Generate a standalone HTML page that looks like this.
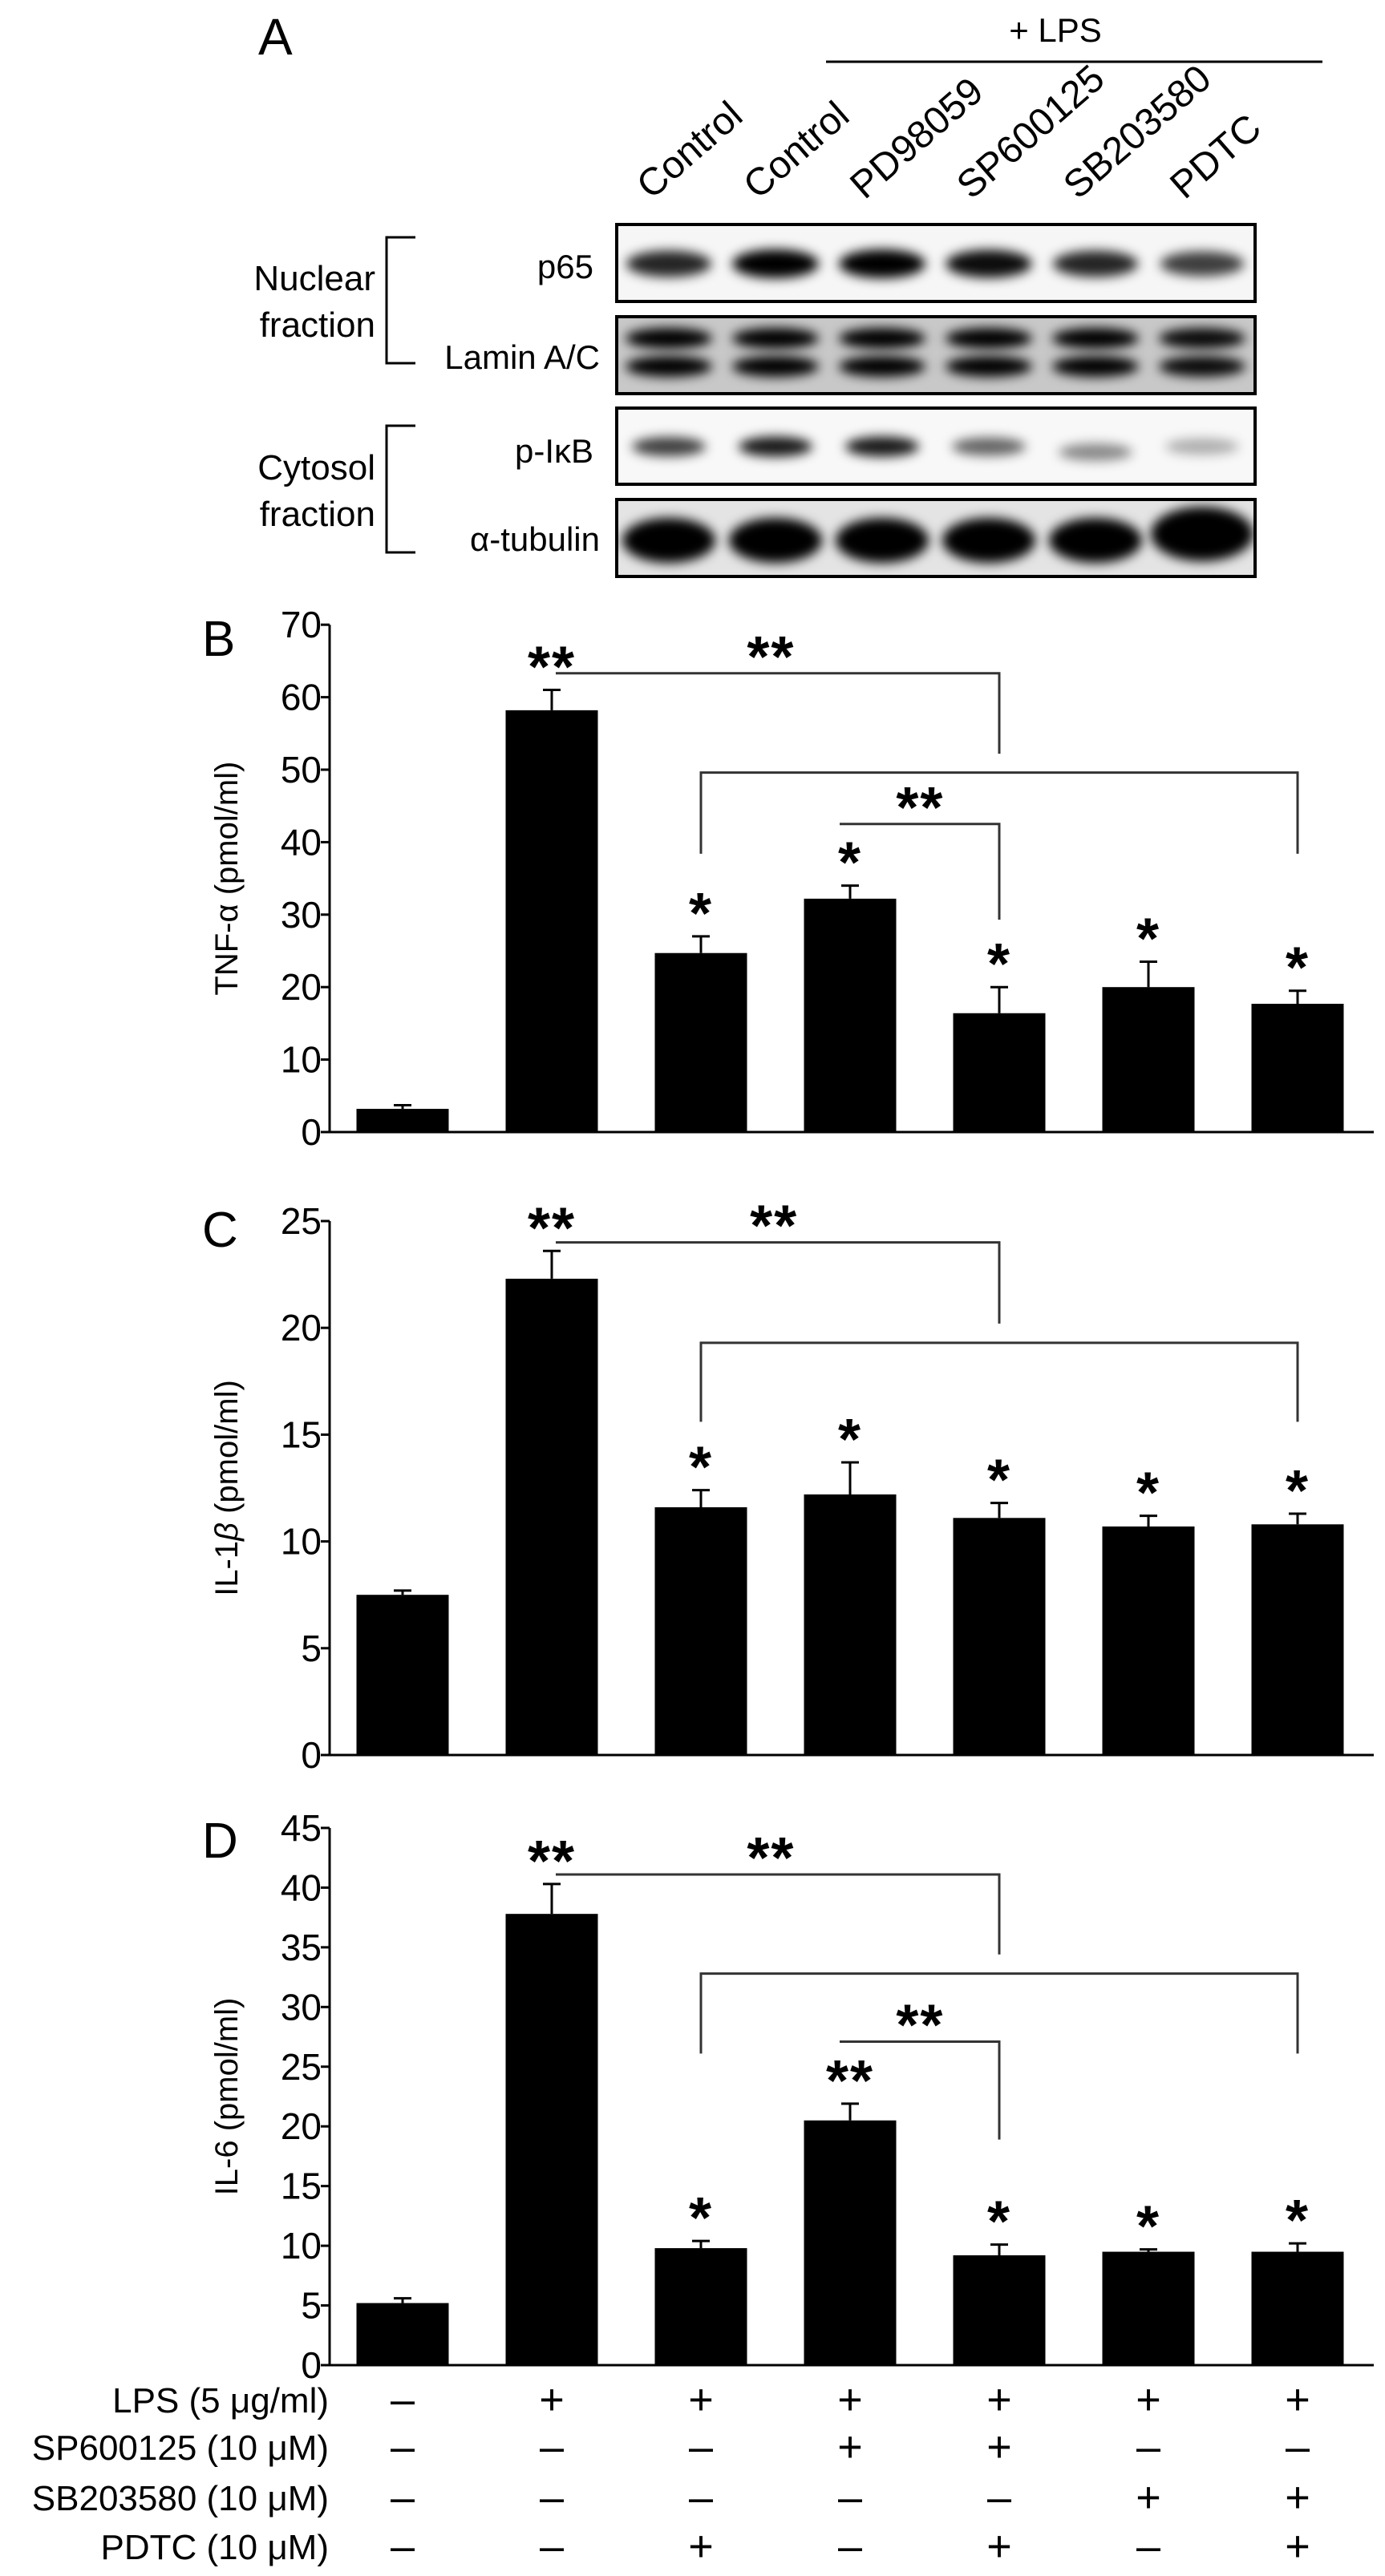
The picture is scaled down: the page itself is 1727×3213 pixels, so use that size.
<!DOCTYPE html>
<html><head><meta charset="utf-8"><style>
html,body{margin:0;padding:0;background:#fff;}
svg{display:block;}
.t{font-family:"Liberation Sans Narrow","Liberation Sans",sans-serif;fill:#000;}
.s{font-family:"Liberation Sans",sans-serif;fill:#000;}
</style></head><body>
<svg id="fig" xmlns="http://www.w3.org/2000/svg" width="1727" height="3213" viewBox="0 0 1727 3213">
<defs>
<filter id="blur" x="-50%" y="-100%" width="200%" height="300%"><feGaussianBlur stdDeviation="7"/></filter>
<clipPath id="c1"><rect x="769" y="280" width="796" height="96"/></clipPath>
<clipPath id="c2"><rect x="769" y="395" width="796" height="96"/></clipPath>
<clipPath id="c3"><rect x="769" y="509" width="796" height="95"/></clipPath>
<clipPath id="c4"><rect x="769" y="623" width="796" height="96"/></clipPath>
</defs>
<g id="panelA">
<text class="t" x="322" y="68" font-size="64">A</text>
<text class="t" x="1316" y="52" font-size="42" text-anchor="middle">+ LPS</text>
<line x1="1030" y1="77" x2="1649" y2="77" stroke="#000" stroke-width="3"/>
<text class="t" x="468" y="362" font-size="44" text-anchor="end">Nuclear</text>
<text class="t" x="468" y="420" font-size="44" text-anchor="end">fraction</text>
<path d="M518 296 H482 V453 H518" fill="none" stroke="#000" stroke-width="3"/>
<text class="t" x="468" y="598" font-size="44" text-anchor="end">Cytosol</text>
<text class="t" x="468" y="656" font-size="44" text-anchor="end">fraction</text>
<path d="M518 531 H482 V689 H518" fill="none" stroke="#000" stroke-width="3"/>
<text class="t" x="740" y="347" font-size="42" text-anchor="end">p65</text>
<text class="t" x="748" y="460" font-size="42" text-anchor="end">Lamin A/C</text>
<text class="t" x="740" y="577" font-size="42" text-anchor="end">p-IκB</text>
<text class="t" x="748" y="687" font-size="42" text-anchor="end">α-tubulin</text>
<g id="blots"></g>
<g id="lanes"></g>
</g>
<g id="charts"></g>
</svg>
<script>
const NS="http://www.w3.org/2000/svg";
// ---- blot data ----
const laneNames=["Control","Control","PD98059","SP600125","SB203580","PDTC"];
const p65Intensity=[0.85,1,1,0.95,0.85,0.75];
const laminIntensity=[1,1,1,1,1,0.95];
const pikbIntensity=[0.75,0.9,0.9,0.6,0.45,0.3];
const tubulinIntensity=[1,1,1,1,1,1];
// ---- chart data ----
const categories=["ctrl","LPS","LPS+PDTC","LPS+SP","LPS+SP+PDTC","LPS+SB","LPS+SB+PDTC"];
const tnfValues=[3.2,58.2,24.7,32.2,16.4,20.0,17.7];
const tnfErrors=[0.5,2.8,2.3,1.8,3.6,3.5,1.8];
const tnfTicks=[0,10,20,30,40,50,60,70];
const tnfStars=["","**","*","*","*","*","*"];
const il1Values=[7.5,22.3,11.6,12.2,11.1,10.7,10.8];
const il1Errors=[0.2,1.3,0.8,1.5,0.7,0.5,0.5];
const il1Ticks=[0,5,10,15,20,25];
const il1Stars=["","**","*","*","*","*","*"];
const il6Values=[5.2,37.8,9.8,20.5,9.2,9.5,9.5];
const il6Errors=[0.4,2.5,0.6,1.4,0.9,0.2,0.7];
const il6Ticks=[0,5,10,15,20,25,30,35,40,45];
const il6Stars=["","**","*","**","*","*","*"];
const lpsRow=["–","+","+","+","+","+","+"];
const spRow=["–","–","–","+","+","–","–"];
const sbRow=["–","–","–","–","–","+","+"];
const pdtcRow=["–","–","+","–","+","–","+"];

function el(tag,attrs,parent){const e=document.createElementNS(NS,tag);for(const k in attrs)e.setAttribute(k,attrs[k]);parent.appendChild(e);return e;}

// blots
const blots=document.getElementById('blots');
const laneX=i=>834+133*i;
function box(y,h,clip,bg,name){
  const g=el('g',{},blots);
  
  
  el('rect',{x:769,y:y,width:796,height:h,fill:bg},g);
  const inner=el('g',{'clip-path':'url(#'+clip+')'},g);
  el('rect',{x:769,y:y,width:796,height:h,fill:'none',stroke:'#000','stroke-width':4},g);
  return inner;
}
const b1=box(280,96,'c1','#f6f6f6','p65-blot');
p65Intensity.forEach((v,i)=>{const e=el('ellipse',{cx:laneX(i),cy:329,rx:48+6*v,ry:8+10*v,fill:'#000','fill-opacity':v,filter:'url(#blur)'},b1);});
const b2=box(395,96,'c2','#c8c8c8','lamin-blot');
laminIntensity.forEach((v,i)=>{[422,457].forEach(cy=>{const e=el('ellipse',{cx:laneX(i),cy:cy,rx:54,ry:13,fill:'#000','fill-opacity':v,filter:'url(#blur)'},b2);});});
const b3=box(509,95,'c3','#f8f8f8','pikb-blot');
pikbIntensity.forEach((v,i)=>{const e=el('ellipse',{cx:laneX(i),cy:i==4?564:557,rx:46,ry:9+4*v,fill:'#000','fill-opacity':v,filter:'url(#blur)'},b3);});
const b4=box(623,96,'c4','#e4e4e4','tubulin-blot');
tubulinIntensity.forEach((v,i)=>{const e=el('ellipse',{cx:laneX(i),cy:i==5?666:674,rx:i==5?64:58,ry:i==5?34:28,fill:'#000','fill-opacity':v,filter:'url(#blur)'},b4);});
const lanes=document.getElementById('lanes');
laneNames.forEach((n,i)=>{
  const x=laneX(i)-22,y=250;
  const t=el('text',{class:'s',x:x,y:y,'font-size':48,transform:`rotate(-41 ${x} ${y})`},lanes);
  t.textContent=n;
  
  
});

// charts
const charts=document.getElementById('charts');
const barX=i=>502+186*i;
const BW=115;
function chart(opt){
  const g=el('g',{},charts);
  
  
  const y=v=>opt.y0-v*opt.ppu;
  const maxT=opt.ticks[opt.ticks.length-1];
  const L=el('text',{class:'t',x:252,y:opt.letterY,'font-size':62},g);L.textContent=opt.letter;
  
  el('line',{x1:411,y1:y(maxT),x2:411,y2:opt.y0,stroke:'#000','stroke-width':3},g);
  el('line',{x1:400,y1:opt.y0,x2:1713,y2:opt.y0,stroke:'#000','stroke-width':3},g);
  opt.ticks.forEach(t=>{
    el('line',{x1:400,y1:y(t),x2:411,y2:y(t),stroke:'#000','stroke-width':3},g);
    const tx=el('text',{class:'t',x:401,y:y(t)+16,'font-size':46,'text-anchor':'end'},g);
    tx.textContent=t;
    
    
  });
  const cy=(y(maxT)+opt.y0)/2;
  const ti=el('text',{class:'s',x:296,y:cy,'font-size':40,'text-anchor':'middle',transform:`rotate(-90 296 ${cy})`},g);
  ti.innerHTML=opt.title;
  
  
  opt.values.forEach((v,i)=>{
    const cx=barX(i);
    const r=el('rect',{x:cx-BW/2,y:y(v),width:BW,height:opt.y0-y(v),fill:'#000'},g);
    
    
    const top=y(v+opt.errors[i]);
    const e=el('path',{d:`M${cx} ${y(v)} V${top} M${cx-11} ${top} H${cx+11}`,stroke:'#000','stroke-width':3,fill:'none'},g);
    
    
    if(opt.stars[i]){
      const s=el('text',{class:'s',x:cx,y:top-4,'font-size':72,'font-weight':'bold','text-anchor':'middle','letter-spacing':2},g);
      s.textContent=opt.stars[i];
      
      
    }
  });
  opt.brackets.forEach(b=>{
    const x1=barX(b[0])+(b[5]||0),x2=barX(b[1]);
    const p=el('path',{d:`M${x1} ${y(b[3])} V${y(b[2])} H${x2} V${y(b[4])}`,stroke:'#333','stroke-width':3,fill:'none'},g);
    
    
    if(b[6]!==undefined){
      const s=el('text',{class:'s',x:barX(b[6]),y:y(b[2])+4,'font-size':72,'font-weight':'bold','text-anchor':'middle','letter-spacing':2},g);
      s.textContent='**';
      
      
    }
  });
}
chart({name:'tnf-chart',letter:'B',letterY:818,y0:1412,ppu:9.04,ticks:tnfTicks,values:tnfValues,errors:tnfErrors,stars:tnfStars,
  title:'TNF-α (pmol/ml)',
  brackets:[[1,4,63.3,63.3,52.2,5,2.47],[2,6,49.6,38.4,38.4],[3,4,42.5,42.5,29.3,-13,3.47]]});
chart({name:'il1b-chart',letter:'C',letterY:1555,y0:2189,ppu:26.64,ticks:il1Ticks,values:il1Values,errors:il1Errors,stars:il1Stars,
  title:'IL-1<tspan font-style="italic">β</tspan> (pmol/ml)',
  brackets:[[1,4,24.0,24.0,20.2,5,2.49],[2,6,19.3,15.6,15.6]]});
chart({name:'il6-chart',letter:'D',letterY:2317,y0:2950,ppu:14.89,ticks:il6Ticks,values:il6Values,errors:il6Errors,stars:il6Stars,
  title:'IL-6 (pmol/ml)',
  brackets:[[1,4,41.1,41.1,34.4,5,2.47],[2,6,32.8,26.1,26.1],[3,4,27.1,27.1,18.9,-13,3.47]]});

// treatment table
const rows=[["LPS (5 μg/ml)",lpsRow,2994],["SP600125 (10 μM)",spRow,3053],["SB203580 (10 μM)",sbRow,3116],["PDTC (10 μM)",pdtcRow,3177]];
const tg=el('g',{},charts);


rows.forEach(r=>{
  const l=el('text',{class:'t',x:410,y:r[2]+15,'font-size':44,'text-anchor':'end'},tg);
  l.textContent=r[0];
  
  
  r[1].forEach((s,i)=>{
    const t=el('text',{class:'s',x:barX(i),y:r[2]+17,'font-size':54,'text-anchor':'middle'},tg);
    t.textContent=s;
    
    
  });
});
</script>
</body></html>
